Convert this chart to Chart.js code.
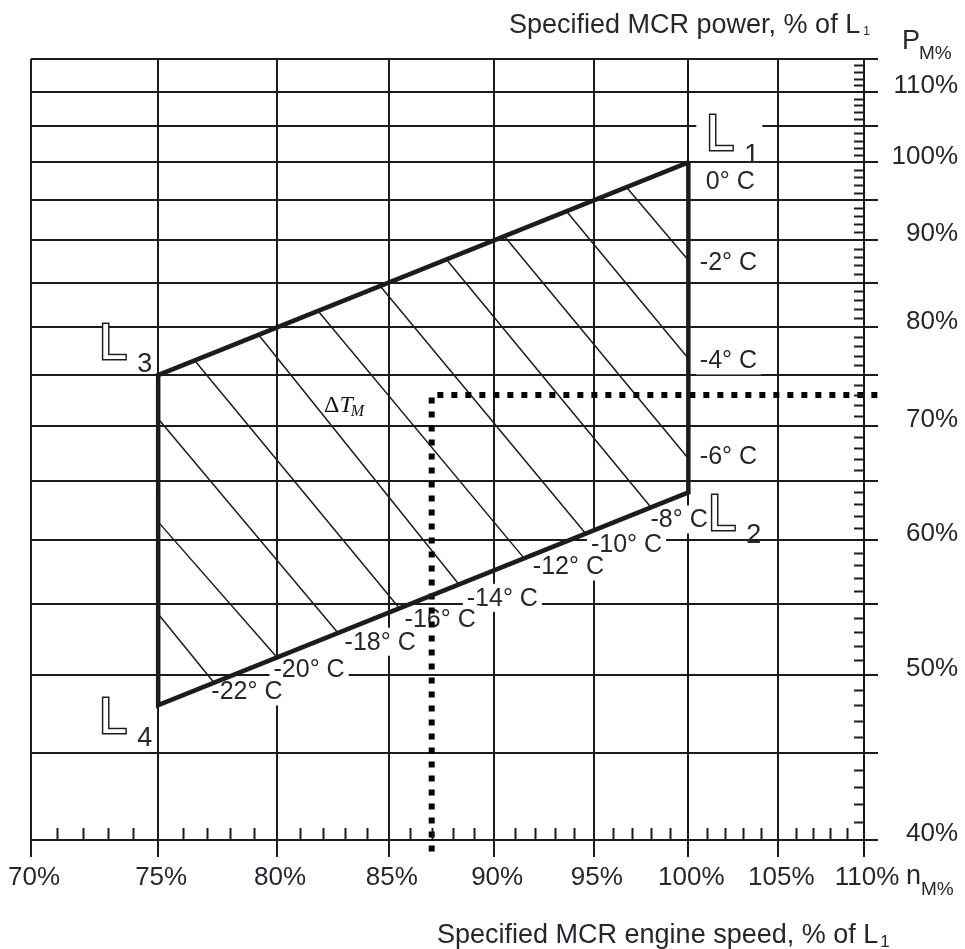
<!DOCTYPE html>
<html>
<head>
<meta charset="utf-8">
<script src="https://cdn.jsdelivr.net/npm/chart.js@4.4.0/dist/chart.umd.min.js"></script>
<style>
  html, body { margin: 0; padding: 0; background: #fff; }
</style>
</head>
<body>
<canvas id="chart" width="965" height="949"></canvas>
<script>
// layout limits, % of L1 (engine speed, power)
const cornerNames = ['1', '2', '4', '3'];
const cornerSpeed = [100, 100, 75, 75];
const cornerPower = [100, 64, 48, 75];

// lines of constant delta Tm (start on upper/left limit, end on lower/right limit)
const hatchTemps = [-22, -20, -18, -16, -14, -12, -10, -8, -6, -4, -2];
const hatchStartSpeed = [75, 75, 75, 76.5, 79.2, 81.8, 84.6, 87.7, 90.5, 93.6, 96.7];
const hatchStartPower = [54.3, 61.5, 70.7, 76.5, 79.2, 81.8, 84.6, 87.7, 90.5, 93.6, 96.7];
const hatchEndSpeed = [77.3, 80.0, 82.7, 85.5, 88.3, 91.5, 94.6, 98.0, 100, 100, 100];
const hatchEndPower = [49.5, 51.2, 52.9, 54.7, 56.5, 58.5, 60.5, 62.7, 67.0, 76.7, 87.6];

// temperature labels
const tempLabels = ['0° C', '-2° C', '-4° C', '-6° C', '-8° C', '-10° C', '-12° C', '-14° C', '-16° C', '-18° C', '-20° C', '-22° C'];
const tempLabelSpeed = [102.3, 102.2, 102.2, 102.2, 99.5, 96.7, 93.7, 90.4, 87.4, 84.6, 81.4, 78.7];
const tempLabelPower = [97.5, 87.4, 76.5, 67.2, 61.7, 59.7, 57.9, 55.5, 53.9, 52.3, 50.4, 48.9];

// specified MCR point (dotted guide lines)
const mcrSpeed = 87;
const mcrPower = 73;

// axes
const speedTicks = [70, 75, 80, 85, 90, 95, 100, 105, 110];
const powerTicks = [40, 45, 50, 55, 60, 65, 70, 75, 80, 85, 90, 95, 100, 105, 110, 115];
const powerLabels = [40, 50, 60, 70, 80, 90, 100, 110];

const FONT = '"Liberation Sans", Arial, Helvetica, sans-serif';
const SERIF = '"Liberation Serif", "Times New Roman", serif';
const TXT = '#24272e';
const INK = '#1c1c1c';

const datasets = [];

// outer limits of the layout diagram
const limitPts = cornerSpeed.map((n, i) => ({ x: n, y: cornerPower[i] }));
limitPts.push({ x: cornerSpeed[0], y: cornerPower[0] });
datasets.push({
  data: limitPts, showLine: true, pointRadius: 0,
  borderColor: INK, borderWidth: 4.5, borderJoinStyle: 'miter'
});

// dotted guide through the MCR point
datasets.push({
  data: [{ x: 110.8, y: mcrPower }, { x: mcrSpeed, y: mcrPower }, { x: mcrSpeed, y: 39.1 }],
  showLine: true, pointRadius: 0, clip: false,
  borderColor: '#000', borderWidth: 6, borderDash: [6, 8], borderCapStyle: 'butt'
});

hatchTemps.forEach((t, i) => {
  datasets.push({
    data: [{ x: hatchStartSpeed[i], y: hatchStartPower[i] }, { x: hatchEndSpeed[i], y: hatchEndPower[i] }],
    showLine: true, pointRadius: 0, borderColor: INK, borderWidth: 1.5
  });
});

// L1..L4 label anchors (left/baseline of the L glyph)
const cornerLabelSpeed = [101.2, 101.3, 72.8, 72.8];
const cornerLabelPower = [101.7, 60.8, 46.2, 76.7];

const decor = {
  id: 'decor',
  beforeDatasetsDraw(chart) {
    const { ctx, scales: { x, y } } = chart;
    ctx.save();
    ctx.font = '25px ' + FONT;
    ctx.textAlign = 'center';
    ctx.textBaseline = 'middle';
    tempLabels.forEach((t, i) => {
      const px = x.getPixelForValue(tempLabelSpeed[i]);
      const py = y.getPixelForValue(tempLabelPower[i]);
      const w = ctx.measureText(t).width;
      ctx.fillStyle = '#fff';
      ctx.fillRect(px - w / 2 - 4, py - 14, w + 8, 28);
      ctx.fillStyle = TXT;
      ctx.fillText(t, px, py + 1);
    });
    // white patch behind L1
    const l1x = x.getPixelForValue(cornerLabelSpeed[0]);
    const l1y = y.getPixelForValue(cornerLabelPower[0]);
    ctx.fillStyle = '#fff';
    ctx.fillRect(l1x - 14, l1y - 40, 66, 36);
    ctx.restore();
  },
  afterDraw(chart) {
    const { ctx, chartArea: a, scales: { x, y } } = chart;
    ctx.save();
    ctx.strokeStyle = INK;
    ctx.lineWidth = 2;
    // minor ticks, 1 % steps
    ctx.beginPath();
    for (let v = 71; v < 110; v++) {
      if (v % 5 === 0) continue;
      const px = Math.round(x.getPixelForValue(v)) + 0.5;
      ctx.moveTo(px, a.bottom);
      ctx.lineTo(px, a.bottom - 12);
    }
    for (let v = 41; v < 115; v++) {
      if (v % 5 === 0) continue;
      const py = Math.round(y.getPixelForValue(v)) + 0.5;
      ctx.moveTo(a.right, py);
      ctx.lineTo(a.right - 10, py);
    }
    ctx.stroke();

    // L1..L4, hollow double-line L
    cornerNames.forEach((d, i) => {
      const px = x.getPixelForValue(cornerLabelSpeed[i]);
      const py = y.getPixelForValue(cornerLabelPower[i]);
      ctx.font = '50px ' + FONT;
      ctx.textAlign = 'left';
      ctx.textBaseline = 'alphabetic';
      ctx.lineJoin = 'miter';
      ctx.lineWidth = 3;
      ctx.strokeStyle = INK;
      ctx.strokeText('L', px - 4, py);
      ctx.fillStyle = '#fff';
      ctx.fillText('L', px - 4, py);
      ctx.font = '27px ' + FONT;
      ctx.fillStyle = TXT;
      ctx.fillText(d, px + 34, py + 13);
    });

    // delta Tm
    const dx = x.getPixelForValue(83.0) - 21;
    const dy = y.getPixelForValue(72.0) + 7;
    ctx.fillStyle = '#111';
    ctx.font = '24px ' + SERIF;
    ctx.fillText('Δ', dx, dy);
    let w = ctx.measureText('Δ').width;
    ctx.font = 'italic 24px ' + SERIF;
    ctx.fillText('T', dx + w, dy);
    w += ctx.measureText('T').width;
    ctx.font = 'italic 16px ' + SERIF;
    ctx.fillText('M', dx + w - 2, dy + 4);

    // axis titles
    ctx.fillStyle = TXT;
    ctx.font = '27px ' + FONT;
    const t1 = 'Specified MCR power, % of L';
    ctx.fillText(t1, 509, 33);
    const t1w = ctx.measureText(t1).width;
    ctx.font = '12px ' + FONT;
    ctx.fillText('1', 509 + t1w + 3, 35);

    ctx.font = '27px ' + FONT;
    const t2 = 'Specified MCR engine speed, % of L';
    ctx.fillText(t2, 437, 943);
    const t2w = ctx.measureText(t2).width;
    ctx.font = '17px ' + FONT;
    ctx.fillText('1', 437 + t2w + 2, 947);

    ctx.font = '27px ' + FONT;
    ctx.fillText('P', 902, 49);
    ctx.font = '19px ' + FONT;
    ctx.fillText('M%', 919, 59);

    ctx.font = '27px ' + FONT;
    ctx.fillText('n', 906, 884);
    ctx.font = '19px ' + FONT;
    ctx.fillText('M%', 921, 895);
    ctx.restore();
  }
};

new Chart(document.getElementById('chart'), {
  type: 'scatter',
  data: { datasets },
  options: {
    responsive: false,
    animation: false,
    devicePixelRatio: 1,
    layout: { padding: { top: 59, left: 30, right: 7, bottom: 0 } },
    plugins: { legend: { display: false }, tooltip: { enabled: false } },
    scales: {
      x: {
        type: 'logarithmic',
        position: 'bottom',
        min: 70, max: 110,
        afterBuildTicks: s => { s.ticks = speedTicks.map(v => ({ value: v })); },
        afterFit: s => { s.height = 109; },
        grid: { color: INK, lineWidth: 2, tickLength: 17 },
        border: { display: true, color: INK, width: 2 },
        ticks: {
          autoSkip: false, maxRotation: 0, padding: 5, labelOffset: 3,
          color: TXT, font: { family: FONT, size: 26 },
          callback: v => v + '%'
        }
      },
      y: {
        type: 'logarithmic',
        position: 'right',
        min: 40, max: 115,
        afterBuildTicks: s => { s.ticks = powerTicks.map(v => ({ value: v })); },
        afterFit: s => { s.width = 94; },
        grid: { color: INK, lineWidth: 2, tickLength: 14 },
        border: { display: true, color: INK, width: 2 },
        ticks: {
          autoSkip: false, padding: 6, crossAlign: 'far', labelOffset: -6,
          color: TXT, font: { family: FONT, size: 26 },
          callback: v => powerLabels.includes(v) ? v + '%' : ''
        }
      }
    }
  },
  plugins: [decor]
});
</script>
</body>
</html>
